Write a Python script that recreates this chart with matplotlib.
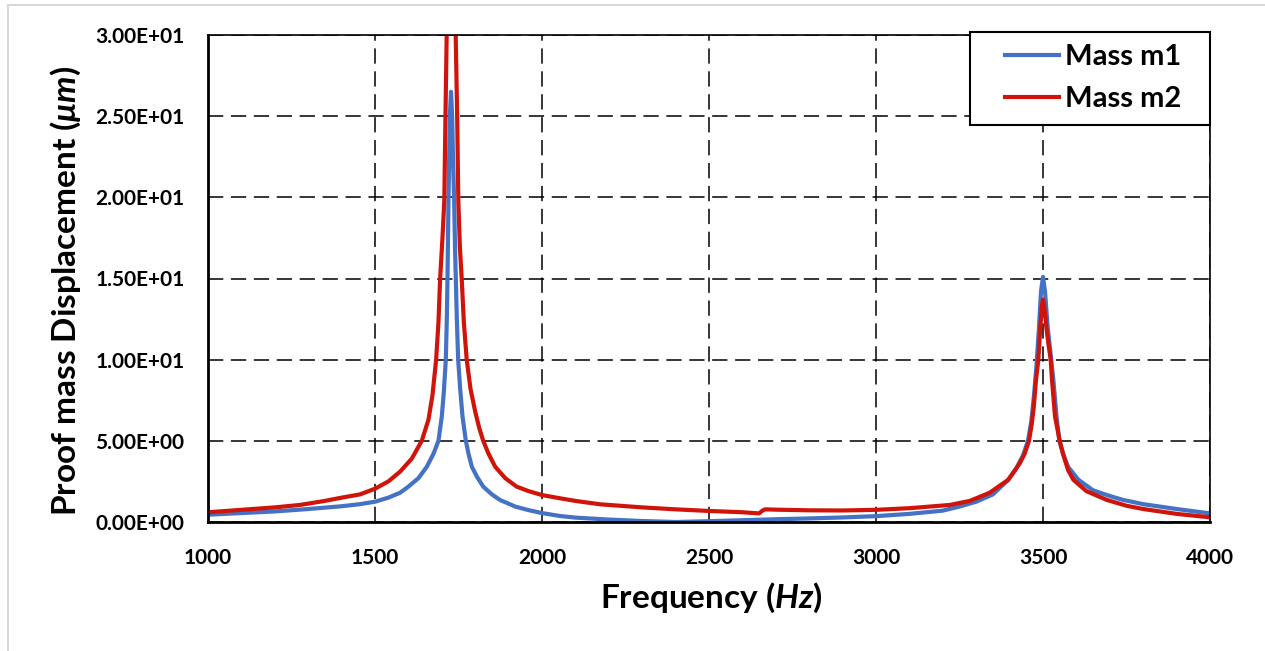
import matplotlib
matplotlib.use("Agg")
import matplotlib.pyplot as plt
from matplotlib.patches import Rectangle
from matplotlib.ticker import FuncFormatter
from matplotlib.legend_handler import HandlerLine2D

# frequency (Hz) / displacement (um)
m1_freq = [1000, 1100, 1200, 1300, 1400, 1455, 1500, 1540, 1575, 1600, 1630, 1655,
           1675, 1690, 1700, 1706, 1712, 1715, 1717, 1720, 1724, 1727.5, 1731, 1734,
           1737, 1740, 1742, 1745, 1749, 1755, 1762, 1772, 1780, 1790, 1805, 1824,
           1850, 1874, 1920, 1960, 2000, 2054, 2100, 2200, 2300, 2400, 2500, 2600,
           2700, 2800, 2900, 3000, 3100, 3200, 3250, 3300, 3350, 3396, 3420, 3440,
           3455, 3465, 3473, 3480, 3488, 3494, 3500, 3506, 3514, 3522, 3531, 3540,
           3549, 3560, 3575, 3606, 3650, 3700, 3740, 3800, 3900, 4000]
m1_disp = [0.45, 0.55, 0.65, 0.8, 0.97, 1.1, 1.25, 1.5, 1.8, 2.18, 2.7, 3.4,
           4.2, 5.0, 6.5, 8.0, 10.0, 12.5, 15.0, 19.8, 25.0, 26.5, 25.0, 22.0,
           19.8, 16.5, 15.0, 12.5, 10.0, 8.2, 6.5, 5.0, 4.2, 3.4, 2.8, 2.18,
           1.7, 1.36, 0.95, 0.73, 0.55, 0.37, 0.27, 0.15, 0.06, 0.0, 0.05, 0.11,
           0.17, 0.22, 0.28, 0.36, 0.5, 0.7, 0.95, 1.25, 1.7, 2.6, 3.3, 4.1,
           5.0, 6.2, 7.8, 9.5, 12.0, 14.2, 15.1, 14.2, 12.0, 10.5, 8.75, 6.6,
           5.0, 4.2, 3.4, 2.6, 1.95, 1.6, 1.36, 1.1, 0.8, 0.53]

m2_freq = [1000, 1100, 1200, 1275, 1350, 1400, 1455, 1500, 1540, 1575, 1610, 1640,
           1660, 1672, 1683, 1690, 1695, 1702, 1707.5, 1711, 1714.6, 1722, 1728,
           1734, 1741.6, 1746, 1749.5, 1754, 1759.6, 1766, 1774.6, 1786, 1800,
           1812, 1824, 1840, 1860, 1890, 1924, 1960, 2000, 2054, 2100, 2174, 2300,
           2400, 2500, 2600, 2650, 2660, 2668, 2700, 2800, 2900, 3000, 3100, 3221,
           3281, 3340, 3396, 3430, 3445, 3458, 3466, 3472, 3479, 3486, 3492, 3496,
           3500, 3504, 3510, 3516, 3523, 3527, 3536, 3550, 3560, 3575, 3591, 3630,
           3691, 3750, 3800, 3900, 4000]
m2_disp = [0.6, 0.75, 0.9, 1.05, 1.3, 1.5, 1.7, 2.05, 2.5, 3.1, 3.9, 5.0,
           6.3, 7.8, 10.0, 12.3, 15.0, 17.5, 19.8, 25.0, 30.0, 38.0, 42.0,
           38.0, 30.0, 25.0, 19.8, 17.0, 15.0, 12.3, 10.0, 8.2, 6.8,
           5.8, 5.0, 4.2, 3.4, 2.7, 2.18, 1.9, 1.66, 1.46, 1.3, 1.09, 0.9,
           0.78, 0.68, 0.6, 0.53, 0.7, 0.78, 0.76, 0.72, 0.71, 0.75, 0.85, 1.05,
           1.3, 1.8, 2.6, 3.6, 4.2, 5.0, 6.0, 7.0, 8.75, 10.0, 12.0, 13.2,
           13.7, 13.2, 12.0, 11.0, 10.0, 8.75, 6.5, 5.0, 4.2, 3.2, 2.6, 1.9,
           1.36, 1.0, 0.8, 0.5, 0.29]

x_ticks = [1000, 1500, 2000, 2500, 3000, 3500, 4000]
y_ticks = [0, 5, 10, 15, 20, 25, 30]

plt.rcParams['font.family'] = ['Lato', 'DejaVu Sans']
plt.rcParams['font.weight'] = 'bold'
plt.rcParams['mathtext.fontset'] = 'custom'
plt.rcParams['mathtext.it'] = 'Lato:italic:bold'
plt.rcParams['mathtext.rm'] = 'Lato:bold'
plt.rcParams['mathtext.fallback'] = 'stixsans'

W, H = 1265, 651
fig = plt.figure(figsize=(W / 100, H / 100), dpi=100)
fig.patches.append(Rectangle((8 / W, -0.01), 1.0, 1 - 5 / H + 0.01,
                             transform=fig.transFigure, fill=False,
                             edgecolor='#d9d9d9', linewidth=1.5))
ax = fig.add_axes([208 / W, 1 - 522 / H, (1210 - 208) / W, (522 - 35) / H])

ax.plot(m1_freq, m1_disp, color='#4472C4', lw=3, label='Mass m1')
ax.plot(m2_freq, m2_disp, color='#D0140A', lw=3, label='Mass m2')

ax.set_xlim(1000, 4000)
ax.set_ylim(0, 30)
ax.set_xticks(x_ticks)
ax.set_yticks(y_ticks)
ax.yaxis.set_major_formatter(FuncFormatter(lambda v, p: f'{v:.2E}'))
ax.tick_params(length=0, labelsize=15)
ax.tick_params(axis='y', pad=17)
ax.tick_params(axis='x', pad=19)
ax.grid(True, color='black', linestyle=(0, (10, 5)), linewidth=1.1)
for s in ax.spines.values():
    s.set_color('black')
    s.set_linewidth(1.2)
ax.spines['left'].set_linewidth(2)
ax.spines['bottom'].set_linewidth(2)

fig.text(711 / W, 1 - 598 / H, 'Frequency ($Hz)$', fontsize=24, fontweight='bold',
         ha='center', va='center')
fig.text(66 / W, 1 - 291 / H, r'Proof mass Displacement ($\mu m$)', fontsize=24,
         fontweight='bold', rotation=90, ha='center', va='center')

fs = 21
leg = ax.legend(loc='upper left', bbox_to_anchor=(970 / W, 1 - 121 / H, 240 / W, 89 / H),
                bbox_transform=fig.transFigure, mode='expand', borderaxespad=0,
                fancybox=False, framealpha=1, edgecolor='black', fontsize=fs,
                handlelength=77 / (fs * 100 / 72), handletextpad=0.2,
                borderpad=0.42, labelspacing=0.55,
                handler_map={plt.Line2D: HandlerLine2D(xpad=23 / (fs * 100 / 72))})
leg.get_frame().set_linewidth(1.5)

fig.savefig('out.png', dpi=100)
